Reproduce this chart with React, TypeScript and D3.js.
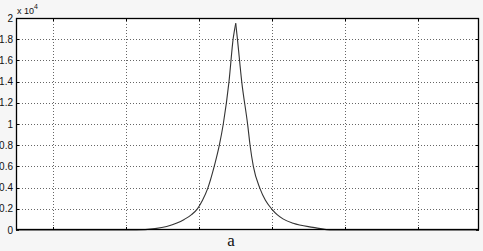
import React, { useEffect, useRef } from 'react';
import * as d3 from 'd3';

// curve samples (x in grid units, y raw value)
const xs = [0, 1.28, 1.64, 1.9, 2.06, 2.2, 2.3, 2.4, 2.48, 2.55, 2.62, 2.71, 2.78, 2.834, 2.912, 2.97, 3.004,
  3.026, 3.086, 3.168, 3.2, 3.245, 3.336, 3.41, 3.5, 3.57, 3.65, 3.79, 4.06, 4.33, 5.0, 6.33];
const ys = [0, 0, 0, 130, 330, 650, 1000, 1450, 2000, 2800, 3900, 6000, 8000, 10000, 14000, 18100, 19500,
  18100, 14000, 9900, 8000, 6000, 3900, 2800, 1950, 1450, 1050, 630, 250, 0, 0, 0];
const peakIndex = 16;

const yTicks = [0, 2000, 4000, 6000, 8000, 10000, 12000, 14000, 16000, 18000, 20000];
const xTicks = [0.5, 1.5, 2.5, 3.5, 4.5, 5.5];

export default function App() {
  const ref = useRef<SVGSVGElement>(null);

  useEffect(() => {
    const svg = d3.select(ref.current);
    svg.selectAll('*').remove();

    const width = 483;
    const height = 251;
    const m = { left: 16, top: 18, right: 4, bottom: 21 };

    svg.append('rect').attr('width', width).attr('height', height).attr('fill', '#f6f6f6');

    const x = d3.scaleLinear().domain([0, 6.33]).range([m.left, width - m.right]);
    const y = d3.scaleLinear().domain([0, 20000]).range([height - m.bottom, m.top]);

    svg.append('rect')
      .attr('x', m.left).attr('y', m.top)
      .attr('width', width - m.right - m.left).attr('height', height - m.bottom - m.top)
      .attr('fill', '#fff');

    // grid
    svg.selectAll('.hgrid')
      .data(yTicks.slice(1, -1))
      .enter()
      .append('line')
      .attr('x1', m.left).attr('x2', width - m.right)
      .attr('y1', d => Math.round(y(d)) + 0.5).attr('y2', d => Math.round(y(d)) + 0.5)
      .attr('stroke', '#666')
      .attr('stroke-dasharray', '1,2');

    svg.selectAll('.vgrid')
      .data(xTicks)
      .enter()
      .append('line')
      .attr('x1', d => Math.round(x(d)) + 0.5).attr('x2', d => Math.round(x(d)) + 0.5)
      .attr('y1', m.top).attr('y2', height - m.bottom)
      .attr('stroke', '#666')
      .attr('stroke-dasharray', '1,2');

    // tick marks on all four sides
    const tl = 3;
    yTicks.forEach(t => {
      const yy = Math.round(y(t)) + 0.5;
      svg.append('line').attr('x1', m.left).attr('x2', m.left + tl).attr('y1', yy).attr('y2', yy).attr('stroke', '#000');
      svg.append('line').attr('x1', width - m.right - tl).attr('x2', width - m.right).attr('y1', yy).attr('y2', yy).attr('stroke', '#000');
    });
    xTicks.forEach(t => {
      const xx = Math.round(x(t)) + 0.5;
      svg.append('line').attr('x1', xx).attr('x2', xx).attr('y1', height - m.bottom).attr('y2', height - m.bottom - tl).attr('stroke', '#000');
      svg.append('line').attr('x1', xx).attr('x2', xx).attr('y1', m.top).attr('y2', m.top + tl).attr('stroke', '#000');
    });

    // curve: two smooth halves meeting at the sharp peak
    const pts: [number, number][] = xs.map((v, i) => [v, ys[i]]);
    const line = d3.line<[number, number]>()
      .x(d => x(d[0]))
      .y(d => y(d[1]))
      .curve(d3.curveMonotoneX);
    [pts.slice(0, peakIndex + 1), pts.slice(peakIndex)].forEach(part => {
      svg.append('path')
        .datum(part)
        .attr('d', line)
        .attr('fill', 'none')
        .attr('stroke', '#333')
        .attr('stroke-width', 1.1);
    });

    // box
    svg.append('rect')
      .attr('x', m.left + 0.5).attr('y', m.top + 0.5)
      .attr('width', width - m.right - m.left - 1).attr('height', height - m.bottom - m.top - 1)
      .attr('fill', 'none')
      .attr('stroke', '#000')
      .attr('stroke-width', 1.3);

    // y labels
    svg.selectAll('.ylab')
      .data(yTicks)
      .enter()
      .append('text')
      .attr('x', m.left - 3)
      .attr('y', d => y(d) + 3.5)
      .attr('text-anchor', 'end')
      .attr('font-family', 'Liberation Sans, Arial, sans-serif')
      .attr('font-size', '10px')
      .attr('fill', '#111')
      .text(d => d3.format('~g')(d / 10000));

    const exp = svg.append('text')
      .attr('x', m.left + 1)
      .attr('y', m.top - 4)
      .attr('font-family', 'Liberation Sans, Arial, sans-serif')
      .attr('font-size', '9px')
      .attr('fill', '#111');
    exp.append('tspan').text('x 10');
    exp.append('tspan').attr('dy', -5).attr('font-size', '7px').text('4');

    svg.append('text')
      .attr('x', 231)
      .attr('y', 246)
      .attr('text-anchor', 'middle')
      .attr('font-family', 'Liberation Serif, Times New Roman, serif')
      .attr('font-size', '17px')
      .attr('fill', '#111')
      .text('a');
  }, []);

  return (
    <svg ref={ref} width={483} height={251} style={{ position: 'absolute', left: 0, top: 0 }} />
  );
}
